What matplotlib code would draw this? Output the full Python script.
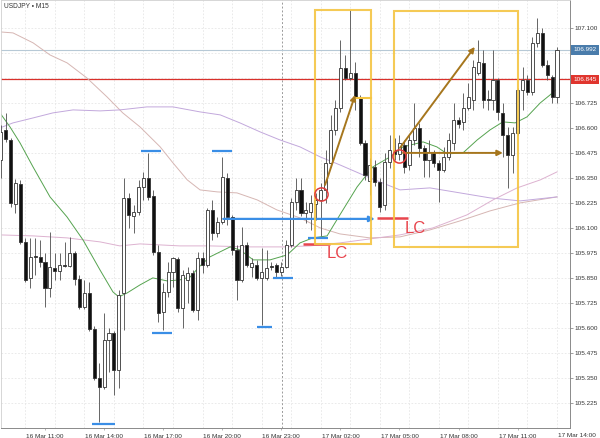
import matplotlib
matplotlib.use("Agg")
import matplotlib.pyplot as plt
from matplotlib.patches import Rectangle
import numpy as np
import pandas as pd

plt.rcParams['font.family'] = ['Liberation Sans', 'DejaVu Sans']

# ---------------- data ----------------
times = pd.date_range("2020-03-16 08:45", periods=114, freq="15min")

opens = [106.442, 106.592, 106.542, 106.222, 106.322, 106.032, 105.852, 105.962, 105.957, 105.932,
         105.802, 105.902, 105.887, 105.917, 105.912, 105.977, 105.847, 105.707, 105.777, 105.597,
         105.352, 105.307, 105.542, 105.577, 105.392, 105.777, 106.252, 106.162, 106.182, 106.307,
         106.352, 106.262, 105.982, 105.682, 105.782, 105.882, 105.947, 105.702, 105.842, 105.877,
         105.692, 105.952, 105.917, 106.192, 106.077, 106.132, 106.352, 106.157, 105.992, 105.842,
         106.017, 105.907, 105.917, 105.852, 105.852, 105.912, 105.917, 105.882, 105.907, 106.017,
         106.232, 106.292, 106.177, 106.182, 106.222, 106.242, 106.292, 106.427, 106.592, 106.702,
         106.902, 106.852, 106.877, 106.757, 106.527, 106.337, 106.407, 106.332, 106.217, 106.432,
         106.492, 106.472, 106.517, 106.417, 106.542, 106.602, 106.502, 106.442, 106.477, 106.427,
         106.392, 106.457, 106.527, 106.642, 106.632, 106.702, 106.742, 106.877, 106.927, 106.747,
         106.742, 106.842, 106.677, 106.567, 106.467, 106.577, 106.792, 106.842, 106.782, 107.027,
         107.077, 106.917, 106.857, 106.757]
highs = [106.617, 106.677, 106.552, 106.347, 106.342, 106.052, 106.052, 106.052, 106.042, 105.977,
         106.082, 105.977, 105.977, 106.032, 106.057, 105.987, 105.867, 105.842, 105.832, 105.612,
         105.427, 105.677, 105.602, 105.587, 105.792, 106.352, 106.277, 106.217, 106.342, 106.382,
         106.477, 106.292, 106.017, 105.827, 105.932, 105.957, 105.957, 105.892, 105.907, 105.892,
         105.982, 105.982, 106.202, 106.242, 106.157, 106.457, 106.377, 106.167, 106.017, 106.107,
         106.032, 105.952, 105.942, 106.002, 105.992, 105.932, 105.927, 105.932, 106.042, 106.252,
         106.352, 106.352, 106.232, 106.267, 106.277, 106.327, 106.492, 106.667, 106.742, 107.042,
         106.967, 107.192, 106.932, 106.767, 106.542, 106.452, 106.442, 106.352, 106.477, 106.567,
         106.552, 106.567, 106.542, 106.567, 106.727, 106.627, 106.517, 106.542, 106.492, 106.442,
         106.507, 106.577, 106.727, 106.657, 106.777, 106.827, 106.942, 107.042, 106.992, 106.792,
         106.992, 106.852, 106.727, 106.607, 106.607, 106.802, 106.907, 106.867, 107.057, 107.152,
         107.102, 106.942, 106.867, 107.007]
lows = [106.352, 106.532, 106.207, 106.177, 106.022, 105.832, 105.802, 105.867, 105.907, 105.707,
        105.757, 105.842, 105.842, 105.907, 105.907, 105.817, 105.697, 105.697, 105.587, 105.342,
        105.132, 105.297, 105.382, 105.267, 105.302, 105.592, 106.102, 106.077, 106.167, 106.242,
        106.242, 105.967, 105.632, 105.592, 105.757, 105.807, 105.682, 105.602, 105.727, 105.682,
        105.642, 105.877, 105.907, 106.042, 106.057, 106.122, 106.117, 105.967, 105.742, 105.832,
        105.907, 105.857, 105.842, 105.617, 105.842, 105.892, 105.857, 105.862, 105.902, 106.007,
        106.192, 106.162, 106.127, 106.092, 106.142, 106.062, 106.227, 106.407, 106.567, 106.682,
        106.842, 106.842, 106.692, 106.517, 106.342, 106.267, 106.312, 106.182, 106.192, 106.402,
        106.442, 106.442, 106.377, 106.392, 106.517, 106.457, 106.357, 106.357, 106.407, 106.232,
        106.382, 106.442, 106.492, 106.602, 106.592, 106.692, 106.692, 106.867, 106.702, 106.692,
        106.692, 106.642, 106.457, 106.302, 106.377, 106.567, 106.692, 106.767, 106.767, 107.007,
        106.907, 106.842, 106.727, 106.727]
closes = [106.582, 106.547, 106.227, 106.327, 106.032, 105.842, 105.957, 105.957, 105.932, 105.802,
          105.907, 105.887, 105.917, 105.912, 105.977, 105.847, 105.707, 105.777, 105.597, 105.352,
          105.307, 105.542, 105.577, 105.392, 105.767, 106.252, 106.167, 106.182, 106.307, 106.352,
          106.257, 105.982, 105.677, 105.782, 105.882, 105.952, 105.702, 105.867, 105.877, 105.692,
          105.952, 105.917, 106.192, 106.077, 106.132, 106.357, 106.157, 105.992, 105.842, 106.017,
          105.917, 105.927, 105.852, 105.882, 105.902, 105.909, 105.882, 105.907, 106.017, 106.232,
          106.292, 106.177, 106.192, 106.227, 106.242, 106.292, 106.427, 106.592, 106.702, 106.902,
          106.852, 106.877, 106.757, 106.527, 106.367, 106.417, 106.332, 106.207, 106.432, 106.492,
          106.472, 106.527, 106.407, 106.542, 106.602, 106.502, 106.442, 106.482, 106.427, 106.392,
          106.457, 106.542, 106.642, 106.622, 106.702, 106.757, 106.907, 106.932, 106.742, 106.742,
          106.842, 106.682, 106.567, 106.467, 106.577, 106.792, 106.842, 106.782, 107.027, 107.077,
          106.917, 106.867, 106.757, 106.992]

# moving averages (candle index, price)
green_idx = [-1.14, 0.89, 2.93, 5.57, 9.02, 12.47, 15.72, 19.17, 21.8, 23.0, 24.7, 27.3, 29.9, 32.8,
             35.4, 37.5, 39.5, 41.5, 45.6, 47.6, 50.3, 53.7, 57.2, 59.8, 62.4, 65.3, 67.9, 71.4,
             74.6, 78.1, 80.7, 84.8, 87.6, 89.7, 92.9, 95.8, 98.4, 101.0, 103.5, 105.9, 108.6,
             110.6, 112.0]
green_val = [106.677, 106.607, 106.527, 106.407, 106.257, 106.157, 106.042, 105.892, 105.782, 105.757,
             105.777, 105.817, 105.852, 105.837, 105.842, 105.857, 105.912, 105.957, 106.007, 105.992,
             105.942, 105.942, 105.967, 106.027, 106.052, 106.062, 106.167, 106.307, 106.407, 106.457,
             106.507, 106.532, 106.507, 106.472, 106.477, 106.542, 106.592, 106.632, 106.627, 106.657,
             106.727, 106.767, 106.797]
purple_idx = [-1.14, 1.5, 5.6, 9.6, 13.7, 19.2, 23.2, 28.7, 34.0, 39.5, 43.6, 47.6, 51.7, 55.7, 59.8,
              63.9, 67.9, 74.0, 80.1, 86.2, 92.3, 98.4, 104.5, 112.0]
purple_val = [106.602, 106.627, 106.652, 106.677, 106.692, 106.687, 106.692, 106.707, 106.707, 106.682,
              106.667, 106.627, 106.582, 106.542, 106.507, 106.457, 106.417, 106.352, 106.292, 106.302,
              106.277, 106.252, 106.237, 106.257]
rosy_idx = [-1.14, 1.5, 5.6, 9.0, 12.5, 16.5, 20.6, 23.8, 27.3, 31.4, 34.0, 36.9, 39.5, 43.0, 47.0,
            51.1, 55.1, 59.8, 63.9, 67.9, 74.0, 80.1, 86.2, 92.3, 98.4, 104.5, 112.0]
rosy_val = [107.082, 107.077, 107.027, 106.967, 106.927, 106.852, 106.757, 106.677, 106.607, 106.507,
            106.427, 106.342, 106.292, 106.282, 106.277, 106.242, 106.192, 106.152, 106.102, 106.072,
            106.052, 106.057, 106.092, 106.137, 106.187, 106.227, 106.257]
mauve_idx = [-1.14, 5.6, 12.5, 19.2, 23.2, 27.3, 35.4, 41.5, 49.6, 56.3, 61.8, 67.9, 74.0, 80.1, 86.8,
             93.7, 99.0, 103.9, 108.6, 112.0]
mauve_val = [106.067, 106.062, 106.052, 106.032, 106.012, 106.022, 106.012, 106.012, 106.007, 106.007,
             106.012, 106.027, 106.047, 106.067, 106.102, 106.167, 106.242, 106.302, 106.342, 106.382]

last_price = 106.992
ref_price = 106.845
yticks = [105.225, 105.350, 105.475, 105.600, 105.725, 105.850, 105.975, 106.100, 106.225,
          106.350, 106.475, 106.600, 106.725, 106.850, 106.975, 107.100]
xtick_labels = ["16 Mar 11:00", "16 Mar 14:00", "16 Mar 17:00", "16 Mar 20:00", "16 Mar 23:00",
                "17 Mar 02:00", "17 Mar 05:00", "17 Mar 08:00", "17 Mar 11:00", "17 Mar 14:00"]

# ---------------- figure ----------------
W, H = 600, 438
fig = plt.figure(figsize=(W / 100, H / 100), dpi=100)
ax = fig.add_axes([1 / W, 1 - 428 / H, 569 / W, 428 / H])

xs = np.arange(-1, len(opens) - 1)
o = np.array(opens); h = np.array(highs); l = np.array(lows); c = np.array(closes)

ax.set_xlim(-0.934, 114.64)
ax.set_ylim(105.1015, 107.2415)

# grid
for k in range(4, 113, 6):
    ax.axvline(k, color='#e6e6e6', lw=0.6, ls=(0, (2, 2)), zorder=0)
for yt in yticks:
    ax.axhline(yt, color='#e6e6e6', lw=0.6, ls=(0, (2, 2)), zorder=0)
ax.axvline(56.1, color='#9a9a9a', lw=0.7, ls=(0, (2, 2)), zorder=0.5)

# price lines
ax.axhline(last_price, color='#b7c9d6', lw=0.8, zorder=1)
ax.axhline(ref_price, color='#d9302b', lw=0.9, zorder=1)

# moving averages
ax.plot(rosy_idx, rosy_val, color='#d6b6b3', lw=0.7, zorder=2)
ax.plot(purple_idx, purple_val, color='#c2a8dc', lw=0.7, zorder=2)
ax.plot(mauve_idx, mauve_val, color='#ddb2d0', lw=0.7, zorder=2)
ax.plot(green_idx, green_val, color='#55a34f', lw=0.7, zorder=2)

# candles
ax.vlines(xs, l, h, color='#5a5a5a', lw=0.65, zorder=3)
up = c >= o
body_bottom = np.minimum(o, c)
body_h = np.maximum(np.abs(c - o), 0.002)
ax.bar(xs, body_h, bottom=body_bottom, width=0.62,
       color=np.where(up, 'white', '#111111'), edgecolor='#333333', linewidth=0.6, zorder=4)

# ---------------- annotations ----------------
blue = '#3a8ee6'
for (x0, x1, yv) in [(17.6, 22.2, 105.12), (27.5, 31.6, 106.487), (29.7, 33.8, 105.577),
                     (41.9, 46.0, 106.487), (51.1, 54.1, 105.607), (54.3, 58.4, 105.852),
                     (61.4, 65.5, 106.052)]:
    ax.plot([x0, x1], [yv, yv], color=blue, lw=1.6, solid_capstyle='butt', zorder=5)
ax.annotate("", xy=(75.0, 106.147), xytext=(44.2, 106.147),
            arrowprops=dict(arrowstyle='-|>', color=blue, lw=1.6, mutation_scale=8,
                            shrinkA=0, shrinkB=0), zorder=5)

red = '#e8454d'
ax.plot([60.4, 65.9], [106.022, 106.022], color=red, lw=1.8, solid_capstyle='butt', zorder=5)
ax.plot([75.4, 81.7], [106.152, 106.152], color=red, lw=1.8, solid_capstyle='butt', zorder=5)
ax.text(65.2, 105.972, "LC", color=red, fontsize=12, ha='left', va='center', zorder=6)
ax.text(81.0, 106.097, "LC", color=red, fontsize=12, ha='left', va='center', zorder=6)

yellow = '#f4c542'
ax.add_patch(Rectangle((62.8, 106.022), 74.2 - 62.8, 107.192 - 106.022, fill=False,
                       edgecolor=yellow, lw=1.5, alpha=0.9, zorder=5))
ax.add_patch(Rectangle((78.9, 106.007), 104.1 - 78.9, 107.187 - 106.007, fill=False,
                       edgecolor=yellow, lw=1.5, alpha=0.9, zorder=5))
ax.plot([71.0, 74.2], [106.752, 106.752], color=yellow, lw=1.5, zorder=5)

brown = '#a6761d'
for (s, e) in [((64.9, 106.317), (71.0, 106.767)),
               ((80.1, 106.502), (95.3, 107.007)),
               ((80.7, 106.477), (101.0, 106.477))]:
    ax.annotate("", xy=e, xytext=s,
                arrowprops=dict(arrowstyle='-|>', color=brown, lw=1.4, mutation_scale=8,
                                shrinkA=0, shrinkB=0), zorder=6)

ax.plot([64.0, 80.0], [106.272, 106.462], ls='none', marker='o', ms=9.5, mfc='none',
        mec='#e03c3c', mew=1.1, zorder=6)

# ---------------- axes styling ----------------
ax.yaxis.tick_right()
ax.set_yticks(yticks)
ax.set_yticklabels([f"{v:.3f}" for v in yticks])
ax.tick_params(axis='y', labelsize=4.6, length=2, width=0.5, color='#777777',
               labelcolor='#333333', pad=1.5)
xt = [8, 20, 32, 44, 56, 68, 80, 92, 104]
ax.set_xticks(xt)
ax.set_xticklabels(xtick_labels[:len(xt)])
ax.tick_params(axis='x', labelsize=4.6, length=1.5, width=0.5, color='#999999',
               labelcolor='#333333', pad=2.5)
ax.annotate(xtick_labels[-1], xy=(116, 0), xycoords=('data', 'axes fraction'),
            xytext=(0, -3.6), textcoords='offset points', ha='center', va='top',
            fontsize=4.6, color='#333333', annotation_clip=False)

for side in ['left', 'top']:
    ax.spines[side].set_color('#d0d0d0')
    ax.spines[side].set_linewidth(0.6)
for side in ['right', 'bottom']:
    ax.spines[side].set_color('#8a8a8a')
    ax.spines[side].set_linewidth(0.7)

ax.text(0.005, 0.993, "USDJPY • M15", transform=ax.transAxes, fontsize=4.8,
        color='#333333', ha='left', va='top')

# price labels on the right axis
for price, bg in [(last_price, '#4a7cab'), (ref_price, '#e0352e')]:
    ax.annotate(f"{price:.3f}", xy=(1.0, price), xycoords=('axes fraction', 'data'),
                xytext=(2.5, 0), textcoords='offset points', ha='left', va='center',
                fontsize=4.6, color='white', annotation_clip=False, zorder=10,
                bbox=dict(boxstyle='square,pad=0.35', fc=bg, ec='none'))

fig.savefig("out.png", dpi=100, facecolor='white')
